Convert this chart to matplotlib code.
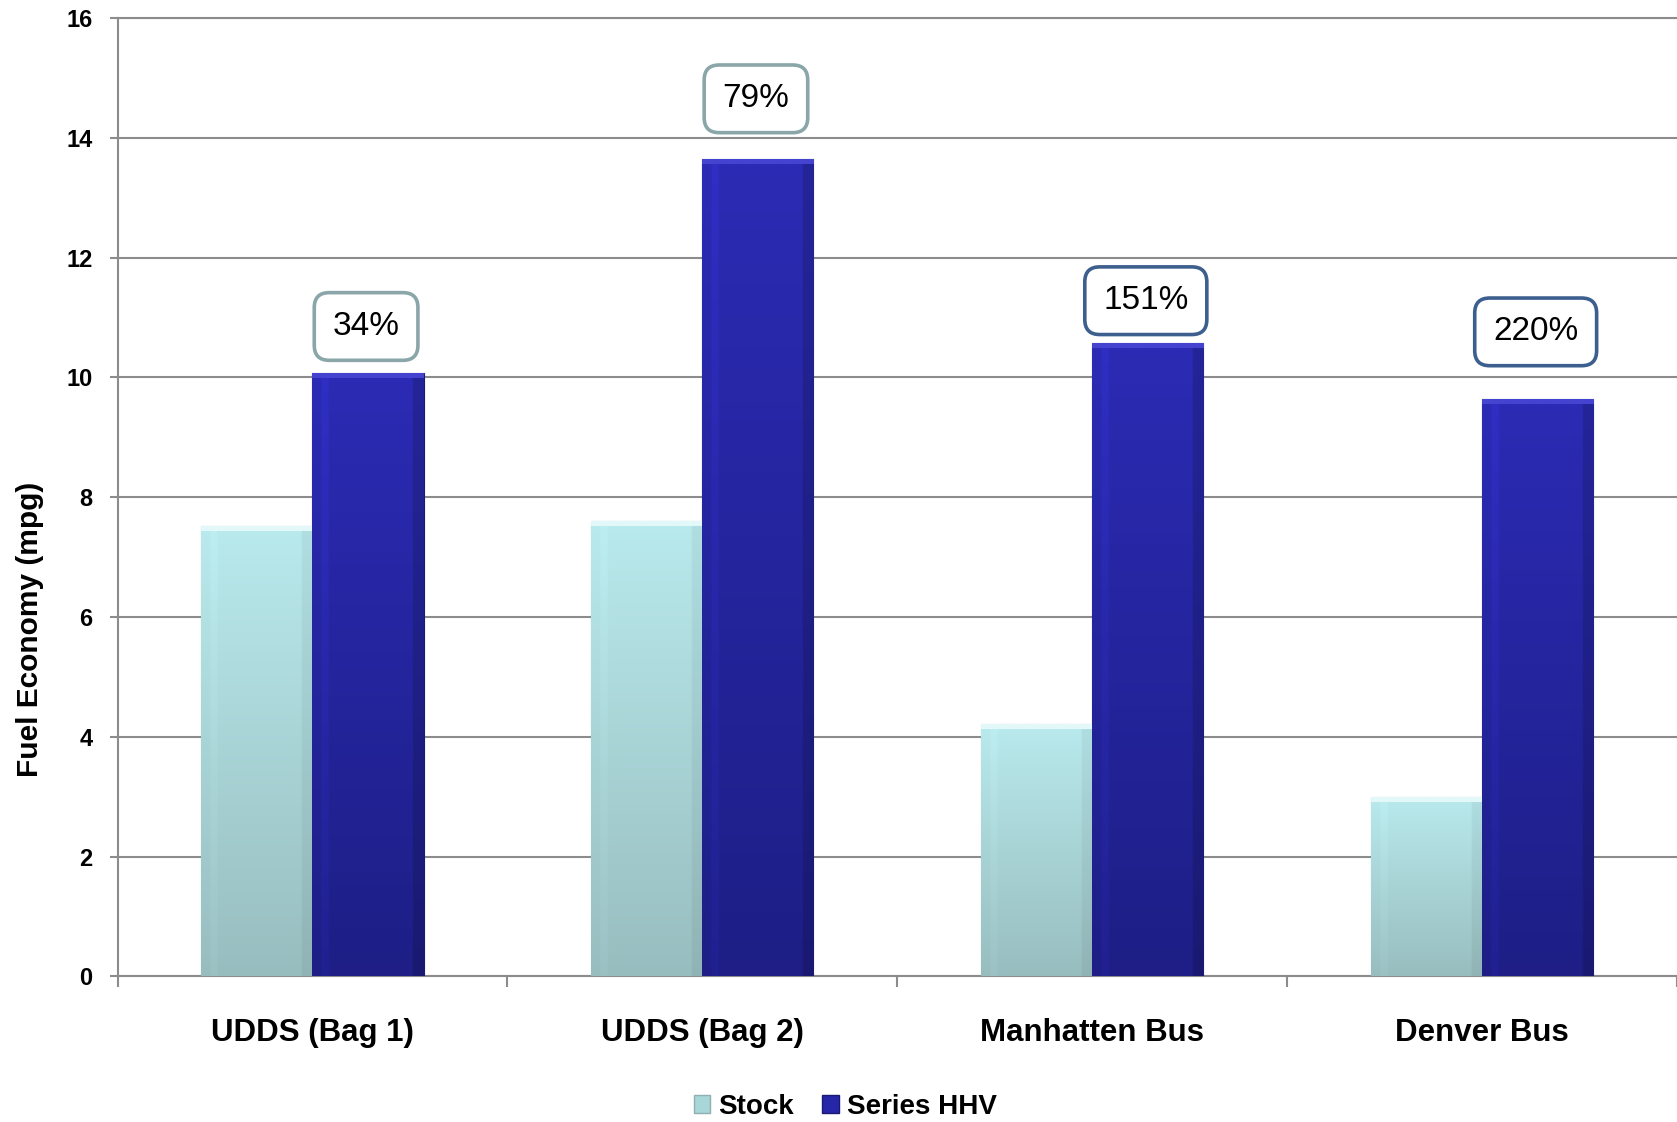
import numpy as np
import matplotlib
matplotlib.use('Agg')
import matplotlib.pyplot as plt
from matplotlib.patches import Patch
from matplotlib.colors import to_rgb

plt.rcParams['font.family'] = ['Liberation Sans Narrow', 'Liberation Sans', 'DejaVu Sans']

# 資料
cycles = ['UDDS (Bag 1)', 'UDDS (Bag 2)', 'Manhatten Bus', 'Denver Bus']
stock = [7.52, 7.60, 4.21, 3.00]
series_hhv = [10.07, 13.64, 10.57, 9.64]
gain_labels = ['34%', '79%', '151%', '220%']
gain_y = [10.85, 14.65, 11.28, 10.76]
box_edges = ['#8aa6a9', '#8aa6a9', '#3d5f8e', '#3d5f8e']

fig = plt.figure(figsize=(16.77, 11.22), dpi=100)
ax = fig.add_axes([0.0701, 0.1297, 0.9299, 0.8543])

x = np.arange(len(cycles))
w = 0.285


def shaded(bars, top, bottom, light_top, left_gain, right_gain):
    # 每根柱子用漸層圖填色
    top = np.array(to_rgb(top))
    bottom = np.array(to_rgb(bottom))
    light_top = np.array(to_rgb(light_top))
    for b in bars:
        h = b.get_height()
        rows = max(int(h * 60), 10)
        t = np.linspace(0, 1, rows)[:, None, None]
        img = top * (1 - t) + bottom * t
        img = np.repeat(img, 60, axis=1)
        cols = np.linspace(0, 1, 60)
        prof = np.ones(60)
        prof[cols > 0.9] = right_gain
        prof[(cols > 0.08) & (cols < 0.14)] = left_gain
        img = np.clip(img * prof[None, :, None], 0, 1)
        img[:6] = light_top
        im = ax.imshow(img, extent=[b.get_x(), b.get_x() + b.get_width(), 0, h],
                       aspect='auto', zorder=3, interpolation='bilinear')
        im.set_clip_path(b)
        b.set_facecolor('none')


b1 = ax.bar(x - w / 2, stock, w, color='#b0e0e3', edgecolor='#8fb0b2', linewidth=0.8, zorder=3)
b2 = ax.bar(x + w / 2, series_hhv, w, color='#2626a8', edgecolor='#1a1a70', linewidth=0.8, zorder=3)
shaded(b1, '#b9eaed', '#98bdbf', '#e3f8f9', 1.02, 0.95)
shaded(b2, '#2b2bb5', '#1e1e86', '#4444d0', 1.08, 0.85)

for xi, yi, lab, ec in zip(x + w / 2, gain_y, gain_labels, box_edges):
    ax.text(xi - 0.005, yi, lab, ha='center', va='center', fontsize=24, zorder=5,
            bbox=dict(boxstyle='round,pad=0.55,rounding_size=0.45', facecolor='white',
                      edgecolor=ec, linewidth=2.6))

ax.set_xlim(-0.5, 3.5)
ax.set_ylim(0, 16)
ax.set_yticks(range(0, 17, 2))
ax.yaxis.grid(True, color='#8c8c8c', linewidth=1.5)
ax.set_axisbelow(True)
for s in ['top', 'right']:
    ax.spines[s].set_visible(False)
for s in ['left', 'bottom']:
    ax.spines[s].set_color('#8c8c8c')
    ax.spines[s].set_linewidth(1.5)
ax.axhline(16, color='#8c8c8c', linewidth=1.5, clip_on=False, zorder=1)

ax.set_xticks(x)
ax.set_xticklabels(cycles, fontsize=22.5, fontweight='bold')
ax.set_xticks(np.arange(-0.5, 3.6, 1), minor=True)
ax.tick_params(axis='x', which='major', length=0, pad=30)
ax.tick_params(axis='x', which='minor', length=8, width=1.5, color='#8c8c8c')
ax.tick_params(axis='y', length=6, width=1.5, color='#8c8c8c', labelsize=17, pad=12)
for t in ax.get_yticklabels():
    t.set_fontweight('bold')

ax.set_ylabel('Fuel Economy (mpg)', fontsize=21.5, fontweight='bold')
ax.yaxis.set_label_coords(-0.047, 0.362)

handles = [Patch(facecolor='#a8d6d9', edgecolor='#8fb0b2'),
           Patch(facecolor='#2626a8', edgecolor='#1a1a70')]
fig.legend(handles, ['Stock', 'Series HHV'], loc='center', bbox_to_anchor=(0.504, 0.0134),
           ncol=2, frameon=False, prop={'size': 20, 'weight': 'bold'},
           handlelength=0.6, handleheight=0.6, handletextpad=0.3, columnspacing=1.0)

fig.savefig('out.png', dpi=100)
